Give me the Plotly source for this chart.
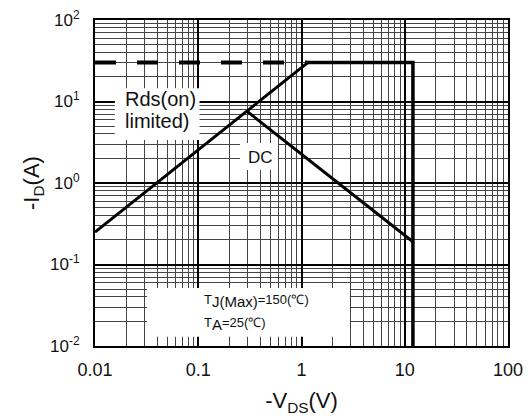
import math
import plotly.graph_objects as go

# Data
rds_v = [0.01, 1.15]          # Rds(on) limited line
rds_i = [0.25, 30]
lim_v = [1.15, 12, 12]        # current limit + voltage limit
lim_i = [30, 30, 0.01]
dash_v = [0.01, 1.15]         # dashed current limit
dash_i = [30, 30]
dc_v = [0.3, 12]              # DC line
dc_i = [7.5, 0.19]

x_ticks = [0.01, 0.1, 1, 10, 100]
x_text = ["0.01", "0.1", "1", "10", "100"]
y_ticks = [0.01, 0.1, 1, 10, 100]
y_text = ["10<sup>-2</sup>", "10<sup>-1</sup>", "10<sup>0</sup>", "10<sup>1</sup>", "10<sup>2</sup>"]

FONT = "Liberation Sans, Arial, sans-serif"
TXT = "#111"

fig = go.Figure()
fig.add_trace(go.Scatter(x=dash_v, y=dash_i, mode="lines",
                         line=dict(color="black", width=4, dash="21px,21px"), showlegend=False))
fig.add_trace(go.Scatter(x=rds_v, y=rds_i, mode="lines",
                         line=dict(color="black", width=3), showlegend=False))
fig.add_trace(go.Scatter(x=lim_v, y=lim_i, mode="lines",
                         line=dict(color="black", width=3.5), showlegend=False))
fig.add_trace(go.Scatter(x=dc_v, y=dc_i, mode="lines",
                         line=dict(color="black", width=3), showlegend=False))

# White label boxes
for x0, x1, y0, y1 in [(0.048, 0.253, 0.632, 0.791),
                       (0.351, 0.443, 0.540, 0.623),
                       (0.126, 0.617, 0.028, 0.178)]:
    fig.add_shape(type="rect", xref="paper", yref="paper", x0=x0, x1=x1, y0=y0, y1=y1,
                  fillcolor="white", line=dict(width=0), layer="above")

# Rds(on) limited) -- two lines, left aligned
fig.add_annotation(xref="paper", yref="paper", x=0.068, y=0.757, xanchor="left", yanchor="middle",
                   text="Rds(on)", showarrow=False, font=dict(family=FONT, size=20, color=TXT))
fig.add_annotation(xref="paper", yref="paper", x=0.068, y=0.690, xanchor="left", yanchor="middle",
                   text="limited)", showarrow=False, font=dict(family=FONT, size=20, color=TXT))
fig.add_annotation(xref="paper", yref="paper", x=0.40, y=0.578, xanchor="center", yanchor="middle",
                   text="DC", showarrow=False, font=dict(family=FONT, size=17, color=TXT))
fig.add_annotation(xref="paper", yref="paper", x=0.259, y=0.138, xanchor="left", yanchor="middle",
                   text='T<sub><span style="font-size:15px">J(Max)</span></sub>=150(℃)',
                   showarrow=False, font=dict(family=FONT, size=13, color=TXT), align="left")
fig.add_annotation(xref="paper", yref="paper", x=0.259, y=0.068, xanchor="left", yanchor="middle",
                   text='T<sub><span style="font-size:15px">A</span></sub>=25(℃)',
                   showarrow=False, font=dict(family=FONT, size=13, color=TXT), align="left")

axis_common = dict(
    type="log", range=[-2, 2], automargin=False,
    showgrid=True, gridcolor="black", gridwidth=2,
    showline=True, linecolor="black", linewidth=2, mirror=True,
    ticks="", zeroline=False,
    minor=dict(dtick="D1", showgrid=True, gridcolor="#444", gridwidth=1, ticks=""),
)

fig.update_xaxes(**axis_common, tickvals=x_ticks, ticktext=x_text, ticklabelstandoff=6,
                 tickfont=dict(family=FONT, size=18, color=TXT),
                 title=dict(text="-V<sub>DS</sub>(V)", font=dict(family=FONT, size=22, color=TXT), standoff=14))
fig.update_yaxes(**axis_common, tickvals=y_ticks, ticktext=y_text, ticklabelstandoff=10,
                 tickfont=dict(family=FONT, size=17, color=TXT),
                 title=dict(text="-I<sub>D</sub>(A)", font=dict(family=FONT, size=22, color=TXT), standoff=4))

fig.update_layout(width=530, height=419, margin=dict(l=95, r=22, t=20, b=73),
                  plot_bgcolor="white", paper_bgcolor="white")

fig.write_html("out.html", config={"displayModeBar": False})

# remove the default body margin so the figure sits at the page origin
with open("out.html", encoding="utf-8") as f:
    html = f.read()
html = html.replace("<body>", '<body style="margin:0;padding:0;">', 1)
with open("out.html", "w", encoding="utf-8") as f:
    f.write(html)
